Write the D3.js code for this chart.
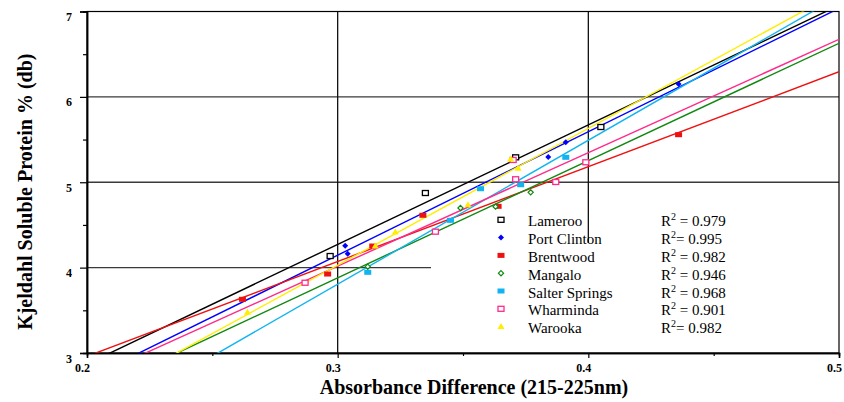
<!DOCTYPE html>
<html>
<head>
<meta charset="utf-8">
<script src="https://cdn.jsdelivr.net/npm/d3@7"></script>
<style>
  body { margin: 0; background: #fff; }
  svg { display: block; font-family: "Liberation Serif", "Times New Roman", serif; }
</style>
</head>
<body>
<div id="chart"></div>
<script>
// valores
const varieties = ["Lameroo", "Port Clinton", "Brentwood", "Mangalo", "Salter Springs", "Wharminda", "Warooka"];
const rSquared = ["0.979", "0.995", "0.982", "0.946", "0.968", "0.901", "0.982"];
const rSpace = [true, false, true, true, true, true, false];
const fitSlope = [14.006, 14.456, 11.11, 13.737, 16.862, 13.283, 16.019];
const fitIntercept = [0.070, -0.191, 0.739, -0.241, -1.253, 0.033, -0.777];

const lamerooX = [0.297, 0.335, 0.371, 0.405];
const lamerooY = [4.136, 4.874, 5.292, 5.647];
const portClintonX = [0.303, 0.304, 0.384, 0.391, 0.436];
const portClintonY = [4.257, 4.163, 5.296, 5.468, 6.151];
const brentwoodX = [0.262, 0.296, 0.314, 0.334, 0.364, 0.436];
const brentwoodY = [3.629, 3.925, 4.253, 4.613, 4.718, 5.557];
const mangaloX = [0.312, 0.349, 0.363, 0.377];
const mangaloY = [4.011, 4.698, 4.714, 4.882];
const salterX = [0.312, 0.345, 0.357, 0.373, 0.391];
const salterY = [3.945, 4.554, 4.924, 4.971, 5.292];
const wharmindaX = [0.287, 0.339, 0.370, 0.371, 0.387, 0.399];
const wharmindaY = [3.823, 4.421, 5.261, 5.035, 5.003, 5.234];
const warookaX = [0.264, 0.315, 0.323, 0.352, 0.369, 0.372];
const warookaY = [3.477, 4.253, 4.417, 4.737, 5.272, 5.163];

const xTicks = [0.2, 0.3, 0.4, 0.5];
const xMinor = [0.25, 0.35, 0.45];
const yTicks = [3, 4, 5, 6, 7];
const yMinor = [3.5, 4.5, 5.5, 6.5];

const seriesX = [lamerooX, portClintonX, brentwoodX, mangaloX, salterX, wharmindaX, warookaX];
const seriesY = [lamerooY, portClintonY, brentwoodY, mangaloY, salterY, wharmindaY, warookaY];
const colors = ["#000000", "#0000ff", "#ee1111", "#118811", "#11b4f0", "#ff2a8a", "#ffee00"];
const shapes = ["openSquare", "diamond", "rect", "openDiamond", "rect", "openSquare", "triangle"];

const width = 844, height = 402;
const m = {left: 87, right: 5, top: 11.5, bottom: 49};

const svg = d3.select("#chart").append("svg")
    .attr("width", width).attr("height", height)
    .attr("viewBox", [0, 0, width, height]);

const x = d3.scaleLinear().domain([0.2, 0.5]).range([m.left, width - m.right]);
const y = d3.scaleLinear().domain([3, 7]).range([height - m.bottom, m.top]);

svg.append("defs").append("clipPath").attr("id", "plot")
    .append("rect")
    .attr("x", x(0.2)).attr("y", y(7))
    .attr("width", x(0.5) - x(0.2)).attr("height", y(3) - y(7));

// grelha
const grid = svg.append("g").attr("stroke", "#3a3a3a").attr("stroke-width", 1.3);
grid.selectAll("line.h").data([4, 5, 6]).join("line")
    .attr("x1", x(0.2)).attr("x2", x(0.5))
    .attr("y1", d => y(d)).attr("y2", d => y(d));
grid.selectAll("line.v").data([0.3, 0.4]).join("line")
    .attr("x1", d => x(d)).attr("x2", d => x(d))
    .attr("y1", y(3)).attr("y2", y(7))
    .attr("stroke", "#111");

// fundo da legenda (tapa a grelha)
svg.append("rect")
    .attr("x", 431).attr("y", 243)
    .attr("width", x(0.5) - 431).attr("height", y(3) - 243)
    .attr("fill", "#fff");

// moldura
svg.append("rect")
    .attr("x", x(0.2)).attr("y", y(7))
    .attr("width", x(0.5) - x(0.2)).attr("height", y(3) - y(7))
    .attr("fill", "none").attr("stroke", "#000").attr("stroke-width", 1.2);

// eixos
const yAxis = svg.append("g").attr("transform", `translate(${x(0.2)},0)`)
    .call(d3.axisLeft(y).tickValues(yTicks).tickSize(7).tickFormat(d3.format("d")));
svg.append("g").attr("transform", `translate(${x(0.2)},0)`)
    .call(d3.axisLeft(y).tickValues(yMinor).tickSize(4).tickFormat(""));
const xAxis = svg.append("g").attr("transform", `translate(0,${y(3)})`)
    .call(d3.axisBottom(x).tickValues(xTicks).tickSize(5).tickFormat(d3.format(".1f")));
svg.append("g").attr("transform", `translate(0,${y(3)})`)
    .call(d3.axisBottom(x).tickValues(xMinor).tickSize(3).tickFormat(""));

svg.selectAll(".domain").attr("stroke", "#000").attr("stroke-width", 1.5);
svg.selectAll(".tick line").attr("stroke", "#000").attr("stroke-width", 1.2);
svg.selectAll(".tick text")
    .attr("font-family", "'Liberation Serif', 'Times New Roman', serif")
    .attr("font-weight", "bold").attr("font-size", 12).attr("fill", "#000");
yAxis.selectAll(".tick text").attr("x", -15).attr("dy", "0.75em");
xAxis.selectAll(".tick text").attr("dx", -5).attr("y", 10).attr("dy", "0.71em");

// títulos
svg.append("text")
    .attr("transform", "translate(31.5,191.7) rotate(-90)")
    .attr("text-anchor", "middle")
    .attr("font-weight", "bold").attr("font-size", 20)
    .text("Kjeldahl Soluble Protein % (db)");
svg.append("text")
    .attr("x", 474).attr("y", 394)
    .attr("text-anchor", "middle")
    .attr("font-weight", "bold").attr("font-size", 20)
    .text("Absorbance Difference (215-225nm)");

// marcadores
function drawMarker(g, shape, color) {
    if (shape === "openSquare") {
        g.append("rect").attr("x", -3).attr("y", -2.5).attr("width", 6).attr("height", 5)
            .attr("fill", "#fff").attr("stroke", color).attr("stroke-width", 1.3);
    } else if (shape === "rect") {
        g.append("rect").attr("x", -3.5).attr("y", -2.5).attr("width", 7).attr("height", 5)
            .attr("fill", color);
    } else if (shape === "diamond") {
        g.append("path").attr("d", "M0,-3L3,0L0,3L-3,0Z").attr("fill", color);
    } else if (shape === "openDiamond") {
        g.append("path").attr("d", "M0,-2.6L2.6,0L0,2.6L-2.6,0Z")
            .attr("fill", "#fff").attr("stroke", color).attr("stroke-width", 1.2);
    } else if (shape === "triangle") {
        g.append("path").attr("d", "M0,-3.5L3.5,2.5L-3.5,2.5Z").attr("fill", color);
    }
}

// rectas de regressão
const lines = svg.append("g").attr("clip-path", "url(#plot)");
varieties.forEach((name, i) => {
    const fit = [0.2, 0.5].map(v => [v, fitSlope[i] * v + fitIntercept[i]]);
    lines.append("path")
        .attr("d", d3.line().x(d => x(d[0])).y(d => y(d[1]))(fit))
        .attr("fill", "none").attr("stroke", colors[i]).attr("stroke-width", 1.4);
});

// pontos
varieties.forEach((name, i) => {
    const pts = seriesX[i].map((v, j) => [v, seriesY[i][j]]);
    svg.append("g").selectAll("g").data(pts).join("g")
        .attr("transform", d => `translate(${x(d[0])},${y(d[1])})`)
        .each(function() { drawMarker(d3.select(this), shapes[i], colors[i]); });
});

// legenda
const legend = svg.append("g");
varieties.forEach((name, i) => {
    const base = 226.3 + i * 17.8;
    drawMarker(legend.append("g").attr("transform", `translate(501,${base - 6.5})`), shapes[i], colors[i]);
    legend.append("text").attr("x", 528).attr("y", base)
        .attr("font-size", 15).text(name);
    const t = legend.append("text").attr("x", 661).attr("y", base).attr("font-size", 15);
    t.append("tspan").text("R");
    t.append("tspan").attr("dy", -6).attr("font-size", 10).text("2");
    t.append("tspan").attr("dy", 6).text((rSpace[i] ? " = " : "= ") + rSquared[i]);
});
</script>
</body>
</html>
